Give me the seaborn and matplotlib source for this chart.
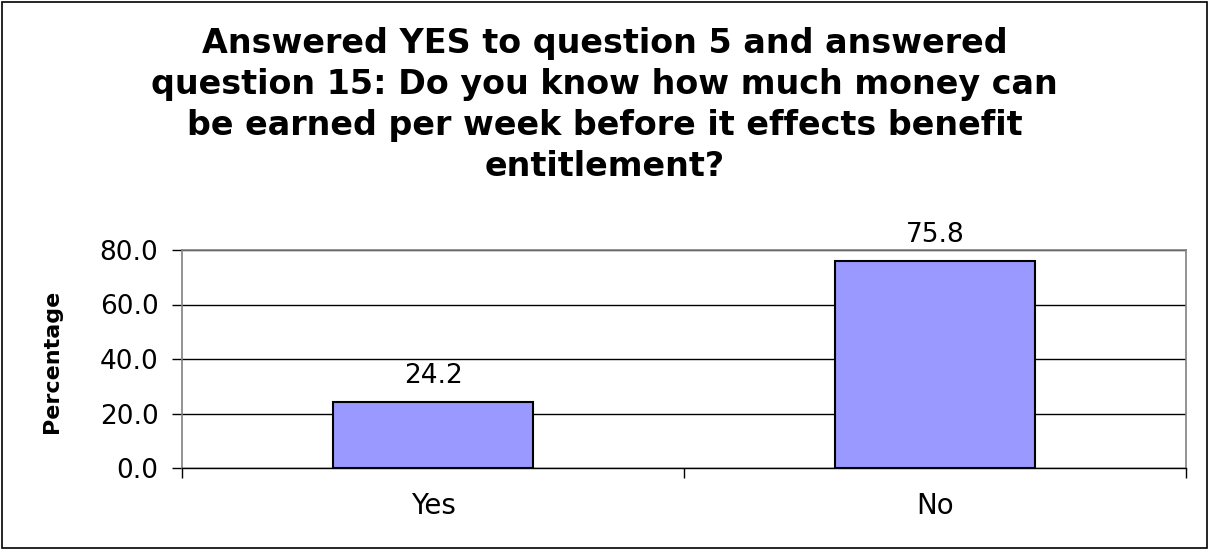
import matplotlib
matplotlib.use("Agg")
import matplotlib.pyplot as plt
import seaborn as sns
import pandas as pd
from matplotlib.patches import Rectangle
from matplotlib.ticker import FixedLocator

categories = ["Yes", "No"]
percentages = [24.2, 75.8]
y_ticks = [0.0, 20.0, 40.0, 60.0, 80.0]

title = ("Answered YES to question 5 and answered\n"
         "question 15: Do you know how much money can\n"
         "be earned per week before it effects benefit\n"
         "entitlement?")

sns.set_style("white")
plt.rcParams["font.family"] = ["DejaVu Sans"]
plt.rcParams["text.color"] = "black"
plt.rcParams["xtick.color"] = "black"
plt.rcParams["ytick.color"] = "black"
plt.rcParams["axes.labelcolor"] = "black"

df = pd.DataFrame({"Answer": categories, "Percentage": percentages})

W, H = 1209, 549
fig = plt.figure(figsize=(W / 100, H / 100), dpi=100)
ax = fig.add_axes([182 / W, 1 - 468 / H, (1186 - 182) / W, (468 - 250) / H])

sns.barplot(data=df, x="Answer", y="Percentage", ax=ax, color="#9999FF",
            saturation=1, width=0.40, edgecolor="black", linewidth=1.5, zorder=3)

ax.set_xlim(-0.5, 1.5)
ax.set_ylim(0, 80)
ax.set_yticks(y_ticks)
ax.set_yticklabels([f"{v:.1f}" for v in y_ticks])
ax.yaxis.grid(True, color="black", linewidth=1.0, zorder=0)
ax.set_axisbelow(True)

# category boundary ticks on the x axis
ax.xaxis.set_minor_locator(FixedLocator([-0.5, 0.5, 1.5]))
ax.tick_params(axis="x", which="major", length=0, pad=17, labelsize=20)
ax.tick_params(axis="x", which="minor", length=7, width=1, color="black", bottom=True)
ax.tick_params(axis="y", which="major", length=7, width=1, color="black", left=True,
               labelsize=19, pad=10)

for side in ["top", "right", "left"]:
    ax.spines[side].set_color("#808080")
    ax.spines[side].set_linewidth(1.2)
ax.spines["bottom"].set_color("black")
ax.spines["bottom"].set_linewidth(1.0)

for i, v in enumerate(percentages):
    ax.annotate(f"{v:.1f}", xy=(i, v), xytext=(0, 14), textcoords="offset points",
                ha="center", va="baseline", fontsize=19)

ax.set_xlabel("")
ax.set_ylabel("")
fig.text(52 / W, 1 - 361 / H, "Percentage", rotation=90, ha="center", va="center",
         fontsize=16, fontweight="bold")

fig.text(0.5, 1 - 105 / H, title, ha="center", va="center", fontsize=24,
         fontweight="bold", linespacing=1.31)

fig.patches.append(Rectangle((0.0015, 0.002), 0.997, 0.995, transform=fig.transFigure,
                             fill=False, edgecolor="black", linewidth=1.2))

fig.savefig("out.png", dpi=100)
